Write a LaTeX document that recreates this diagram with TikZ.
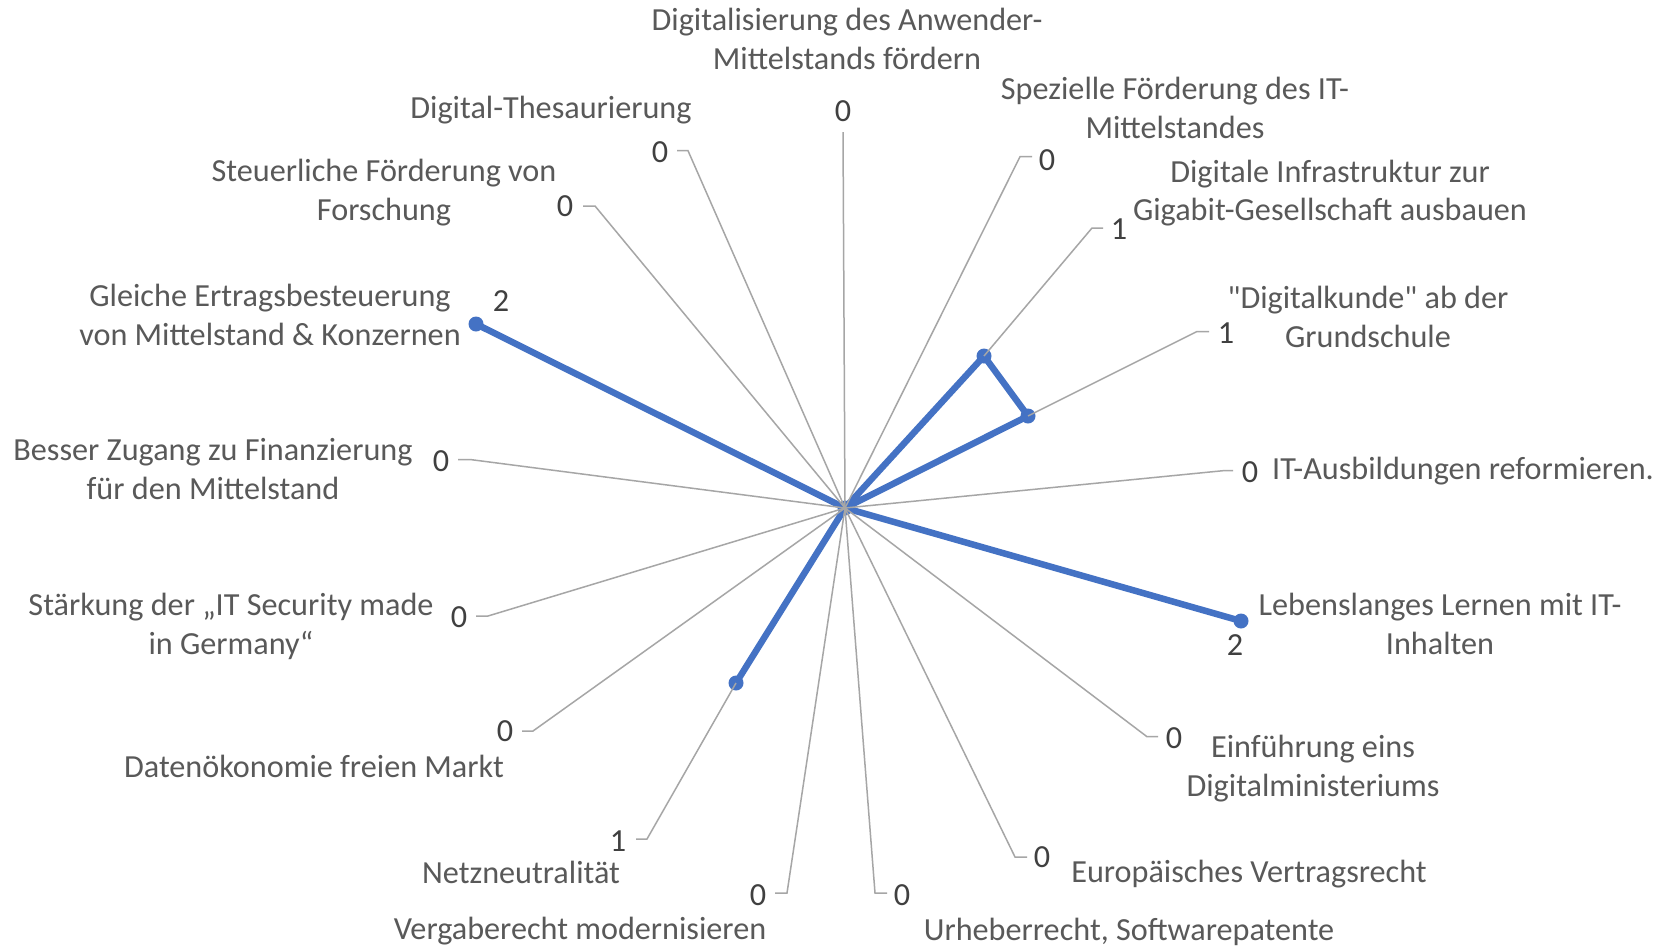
\documentclass[tikz,border=0pt]{standalone}
\usepackage{fontspec}
\setmainfont{Carlito}
\newfontfamily\qfont{Carlito}[Ligatures=TeXOff]
\definecolor{cattxt}{HTML}{595959}
\definecolor{valtxt}{HTML}{404040}
\definecolor{leadgray}{HTML}{A6A6A6}
\definecolor{serblue}{HTML}{4472C4}
\newcommand\sq{{\qfont\symbol{34}}}
\begin{document}
\begin{tikzpicture}[x=1pt,y=-1pt,
  cat/.style={font=\fontsize{32.2}{38.5}\selectfont, text=cattxt, align=center, inner sep=0pt, anchor=north, yshift=25.5pt},
  val/.style={font=\fontsize{32.2}{38.5}\selectfont, text=valtxt, inner sep=0pt, anchor=center},
  lead/.style={draw=leadgray, line width=1.5pt},
  ser/.style={draw=serblue, line width=6.5pt, line join=round, line cap=round},
  dot/.style={circle, fill=serblue, inner sep=0pt, minimum size=15pt}]
\useasboundingbox[fill=white] (0,0) rectangle (1661,946);
\coordinate (C) at (845,508);
% data points
\coordinate (p2) at (984,356);
\coordinate (p3) at (1028,416);
\coordinate (p5) at (1241,621);
\coordinate (p10) at (736,683);
\coordinate (p14) at (476,324);
\draw[ser] (C) -- (p2) -- (p3) -- (C) -- (p5) -- (C) -- (p10) -- (C) -- (p14) -- cycle;
\node[dot] (d0) at (C) {};
\node[dot] (d2) at (p2) {};
\node[dot] (d3) at (p3) {};
\node[dot] (d5) at (p5) {};
\node[dot] (d10) at (p10) {};
\node[dot] (d14) at (p14) {};
% leader line coordinates
\coordinate (e0) at (843,132);
\coordinate (b1) at (1020,156.7); \coordinate (e1) at (1032,156.7);
\coordinate (b2) at (1092,228); \coordinate (e2) at (1103,228);
\coordinate (b3) at (1197,331.5); \coordinate (e3) at (1209,331.5);
\coordinate (b4) at (1223,470.7); \coordinate (e4) at (1233,470.7);
\coordinate (b6) at (1147,736.7); \coordinate (e6) at (1158,736.7);
\coordinate (b7) at (1015,857); \coordinate (e7) at (1027,857);
\coordinate (b8) at (875,893); \coordinate (e8) at (887,893);
\coordinate (b9) at (787,893); \coordinate (e9) at (775,893);
\coordinate (b10) at (647,839); \coordinate (e10) at (636,839);
\coordinate (b11) at (533,731); \coordinate (e11) at (522,731);
\coordinate (b12) at (488,616); \coordinate (e12) at (476,616);
\coordinate (b13) at (470,459.5); \coordinate (e13) at (458,459.5);
\coordinate (b15) at (595,206); \coordinate (e15) at (583,206);
\coordinate (b16) at (688,150.7); \coordinate (e16) at (677,150.7);
\draw[lead] (C) -- (e0);
\draw[lead] (C) -- (b1) -- (e1);
\draw[lead] (p2) -- (b2) -- (e2);
\draw[lead] (p3) -- (b3) -- (e3);
\draw[lead] (C) -- (b4) -- (e4);
\draw[lead] (C) -- (b6) -- (e6);
\draw[lead] (C) -- (b7) -- (e7);
\draw[lead] (C) -- (b8) -- (e8);
\draw[lead] (C) -- (b9) -- (e9);
\draw[lead] (p10) -- (b10) -- (e10);
\draw[lead] (C) -- (b11) -- (e11);
\draw[lead] (C) -- (b12) -- (e12);
\draw[lead] (C) -- (b13) -- (e13);
\draw[lead] (C) -- (b15) -- (e15);
\draw[lead] (C) -- (b16) -- (e16);
% value labels
\node[val] (v0) at (843,111) {0};
\node[val] (v1) at (1047,160) {0};
\node[val] (v2) at (1119,229) {1};
\node[val] (v3) at (1226,333) {1};
\node[val] (v4) at (1250,472) {0};
\node[val] (v5) at (1235,645) {2};
\node[val] (v6) at (1174,738) {0};
\node[val] (v7) at (1042,857) {0};
\node[val] (v8) at (902,895) {0};
\node[val] (v9) at (758,895) {0};
\node[val] (v10) at (618,841) {1};
\node[val] (v11) at (505,731) {0};
\node[val] (v12) at (459,617) {0};
\node[val] (v13) at (441,461) {0};
\node[val] (v14) at (501,301) {2};
\node[val] (v15) at (565,206) {0};
\node[val] (v16) at (660,152) {0};
% category labels
\node[cat] (c0) at (847,29) {\strut Digitalisierung des Anwender-\\\strut Mittelstands fördern};
\node[cat] (c1) at (1175,98) {\strut Spezielle Förderung des IT-\\\strut Mittelstandes};
\node[cat] (c2) at (1330,180.5) {\strut Digitale Infrastruktur zur\\\strut Gigabit-Gesellschaft ausbauen};
\node[cat] (c3) at (1368,307) {\strut \sq Digitalkunde\sq{} ab der\\\strut Grundschule};
\node[cat] (c4) at (1463,478) {\strut IT-Ausbildungen reformieren.};
\node[cat] (c5) at (1440,614) {\strut Lebenslanges Lernen mit IT-\\\strut Inhalten};
\node[cat] (c6) at (1313,756) {\strut Einführung eins\\\strut Digitalministeriums};
\node[cat] (c7) at (1249,881) {\strut Europäisches Vertragsrecht};
\node[cat] (c8) at (1129,939) {\strut Urheberrecht, Softwarepatente};
\node[cat] (c9) at (580,938) {\strut Vergaberecht modernisieren};
\node[cat] (c10) at (521,882) {\strut Netzneutralität};
\node[cat] (c11) at (314,776) {\strut Datenökonomie freien Markt};
\node[cat] (c12) at (231,614) {\strut Stärkung der „IT Security made\\\strut in Germany“};
\node[cat] (c13) at (213,459) {\strut Besser Zugang zu Finanzierung\\\strut für den Mittelstand};
\node[cat] (c14) at (270,305) {\strut Gleiche Ertragsbesteuerung\\\strut von Mittelstand \& Konzernen};
\node[cat] (c15) at (384,180) {\strut Steuerliche Förderung von\\\strut Forschung};
\node[cat] (c16) at (551,117) {\strut Digital-Thesaurierung};
\end{tikzpicture}
\end{document}
